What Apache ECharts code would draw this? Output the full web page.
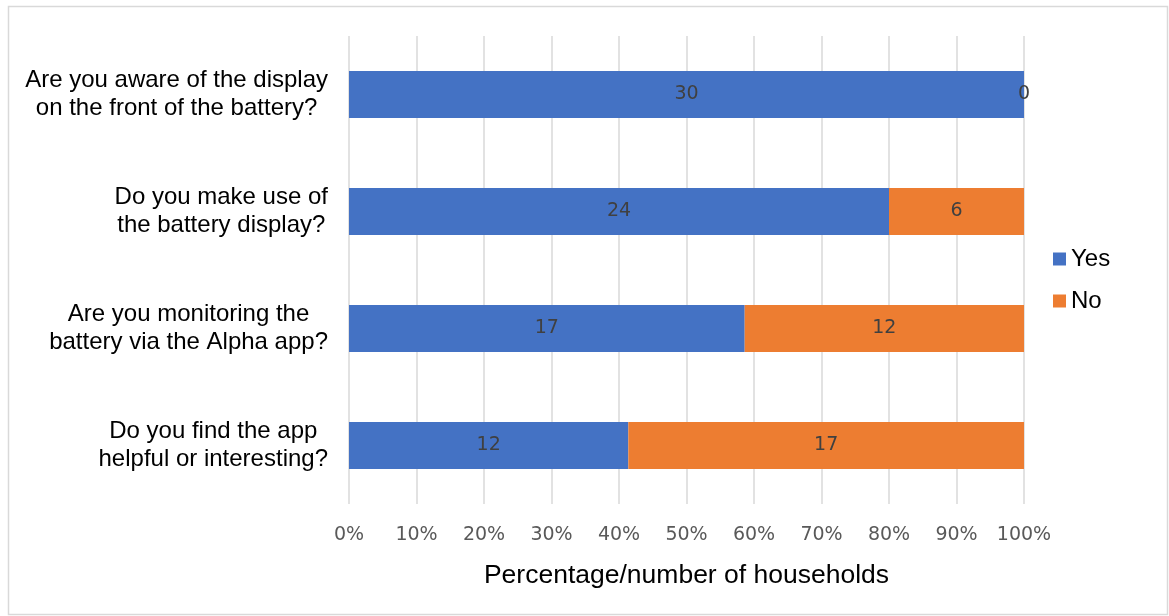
<!DOCTYPE html>
<html>
<head>
<meta charset="utf-8">
<title>Battery display and app usage</title>
<script src="https://cdn.jsdelivr.net/npm/echarts@6/dist/echarts.min.js"></script>
<style>
  html, body { margin: 0; padding: 0; background: #ffffff; }
  #chart { width: 1169px; height: 616px; }
</style>
</head>
<body>
<div id="chart"></div>
<script>
// Survey questions (top to bottom)
const questions = [
  'Are you aware of the display\non the front of the battery?',
  'Do you make use of\nthe battery display?',
  'Are you monitoring the\nbattery via the Alpha app?',
  'Do you find the app\nhelpful or interesting?'
];

// Number of households answering each way
const yesCounts = [30, 24, 17, 12];
const noCounts  = [0, 6, 12, 17];

const seriesNames = ['Yes', 'No'];
const seriesColors = ['#4472C4', '#ED7D31'];

// Percent-axis tick values
const percentTicks = [0, 10, 20, 30, 40, 50, 60, 70, 80, 90, 100];

// Each bar is the share of households in its row; the label keeps the count
function shares(counts) {
  return counts.map((c, i) => ({
    value: c / (yesCounts[i] + noCounts[i]) * 100,
    count: c
  }));
}

const chart = echarts.init(document.getElementById('chart'), null, { renderer: 'canvas' });

const labelFont = 'DejaVu Sans, Liberation Sans, sans-serif';
const textFont = 'Liberation Sans, Arial, sans-serif';

const option = {
  backgroundColor: '#ffffff',
  animation: false,
  graphic: [{
    type: 'rect',
    shape: { x: 8.5, y: 6.5, width: 1159, height: 608 },
    style: { fill: 'none', stroke: '#d9d9d9', lineWidth: 1.5 },
    silent: true,
    z: -1
  }],
  grid: { left: 349, right: 145, top: 36, bottom: 112, containLabel: false },
  legend: {
    orient: 'vertical',
    left: 1053,
    top: 247,
    padding: 0,
    itemWidth: 13,
    itemHeight: 13,
    itemGap: 18,
    icon: 'rect',
    data: seriesNames,
    textStyle: { fontFamily: textFont, fontSize: 24, color: '#000000' }
  },
  xAxis: {
    type: 'value',
    min: percentTicks[0],
    max: percentTicks[percentTicks.length - 1],
    interval: percentTicks[1] - percentTicks[0],
    name: 'Percentage/number of households',
    nameLocation: 'middle',
    nameGap: 58,
    nameTextStyle: { fontFamily: textFont, fontSize: 26.5, color: '#000000' },
    axisLine: { show: false },
    axisTick: { show: false },
    axisLabel: {
      margin: 22,
      formatter: '{value}%',
      fontFamily: labelFont,
      fontSize: 19,
      color: '#595959'
    },
    splitLine: { show: true, lineStyle: { color: '#d9d9d9', width: 1.5 } }
  },
  yAxis: {
    type: 'category',
    inverse: true,
    data: questions,
    axisLine: { show: false },
    axisTick: { show: false },
    axisLabel: {
      margin: 21,
      align: 'right',
      formatter: v => v.split('\n').map(s => '{c|' + s + '}').join('\n'),
      rich: {
        c: { align: 'center', fontFamily: textFont, fontSize: 24, lineHeight: 28, color: '#000000' }
      }
    }
  },
  series: [yesCounts, noCounts].map((counts, k) => ({
    name: seriesNames[k],
    type: 'bar',
    stack: 'total',
    barWidth: 47,
    itemStyle: { color: seriesColors[k] },
    label: {
      show: true,
      position: 'inside',
      formatter: p => String(p.data.count),
      fontFamily: labelFont,
      fontSize: 19,
      color: '#404040'
    },
    data: shares(counts)
  }))
};

chart.setOption(option);
</script>
</body>
</html>
